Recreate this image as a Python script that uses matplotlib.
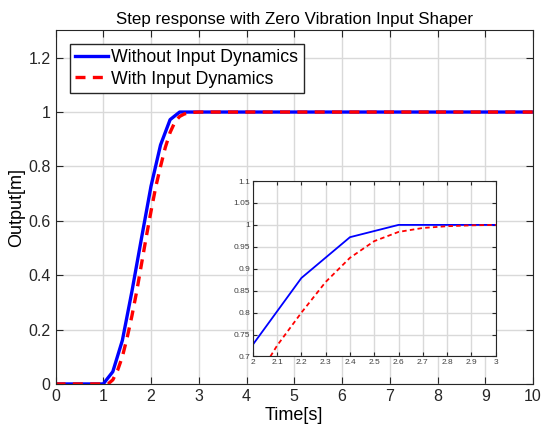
import matplotlib
matplotlib.use('Agg')
import matplotlib.pyplot as plt

plt.rcParams['font.family'] = ['Liberation Sans', 'DejaVu Sans']

# step response samples
t_blue = [0, 1.0, 1.2, 1.4, 1.6, 1.8, 2.0, 2.2, 2.4, 2.6, 10]
y_blue = [0, 0, 0.045, 0.16, 0.34, 0.535, 0.727, 0.879, 0.972, 1.0, 1.0]

t_red = [0, 1.1, 1.2, 1.3, 1.4, 1.5, 1.6, 1.7, 1.8, 1.9, 2.0, 2.1, 2.2, 2.3,
         2.4, 2.5, 2.6, 2.7, 2.8, 2.9, 3.0, 10]
y_red = [0, 0, 0.015, 0.05, 0.10, 0.17, 0.25, 0.34, 0.44, 0.54, 0.635, 0.725,
         0.80, 0.87, 0.925, 0.963, 0.984, 0.993, 0.997, 0.999, 1.0, 1.0]

xticks = [0, 1, 2, 3, 4, 5, 6, 7, 8, 9, 10]
yticks = [0, 0.2, 0.4, 0.6, 0.8, 1.0, 1.2]
ylabels = ['0', '0.2', '0.4', '0.6', '0.8', '1', '1.2']

in_xticks = [2, 2.1, 2.2, 2.3, 2.4, 2.5, 2.6, 2.7, 2.8, 2.9, 3]
in_xlabels = ['2', '2.1', '2.2', '2.3', '2.4', '2.5', '2.6', '2.7', '2.8', '2.9', '3']
in_yticks = [0.7, 0.75, 0.8, 0.85, 0.9, 0.95, 1.0, 1.05, 1.1]
in_ylabels = ['0.7', '0.75', '0.8', '0.85', '0.9', '0.95', '1', '1.05', '1.1']

edge = '#262626'
gridc = '#d9d9d9'

fig = plt.figure(figsize=(5.42, 4.29), dpi=100)
ax = fig.add_axes([0.1024, 0.105, 0.881, 0.824])

ax.plot(t_blue, y_blue, color='#0000ff', lw=2.4, label='Without Input Dynamics')
ax.plot(t_red, y_red, color='#ff0000', lw=2.4, ls=(0, (3, 2.2)), label='With Input Dynamics')
ax.set_xlim(0, 10)
ax.set_ylim(0, 1.3)
ax.set_xticks(xticks)
ax.set_yticks(yticks)
ax.set_yticklabels(ylabels)
ax.grid(True, color=gridc, lw=1)
ax.set_axisbelow(True)
ax.tick_params(direction='in', top=True, right=True, labelsize=11.5, colors=edge,
               length=5, labelcolor='#262626')
for s in ax.spines.values():
    s.set_color(edge)
ax.set_xlabel('Time[s]', fontsize=13, labelpad=2)
ax.set_ylabel('Output[m]', fontsize=13, labelpad=2)
ax.set_title('Step response with Zero Vibration Input Shaper', fontsize=12.2, pad=5)
leg = ax.legend(loc='upper left', bbox_to_anchor=(0.03, 0.962), fontsize=12.8,
                fancybox=False, framealpha=1, edgecolor=edge, handlelength=1.85,
                handletextpad=0.18, borderpad=0.3, labelspacing=0.25, borderaxespad=0)
leg.get_frame().set_linewidth(1)

# zoomed inset
ins = fig.add_axes([0.4665, 0.169, 0.448, 0.409])
ins.plot(t_blue, y_blue, color='#0000ff', lw=1.3)
ins.plot(t_red, y_red, color='#ff0000', lw=1.3, ls=(0, (2.5, 1.8)))
ins.set_xlim(2, 3)
ins.set_ylim(0.7, 1.1)
ins.set_xticks(in_xticks)
ins.set_xticklabels(in_xlabels)
ins.set_yticks(in_yticks)
ins.set_yticklabels(in_ylabels)
ins.grid(True, color=gridc, lw=1)
ins.set_axisbelow(True)
ins.tick_params(direction='in', top=True, right=True, labelsize=6, colors=edge,
                length=3, pad=2, labelcolor='#404040')
for s in ins.spines.values():
    s.set_color(edge)

fig.savefig('out.png', dpi=100, facecolor='white')
